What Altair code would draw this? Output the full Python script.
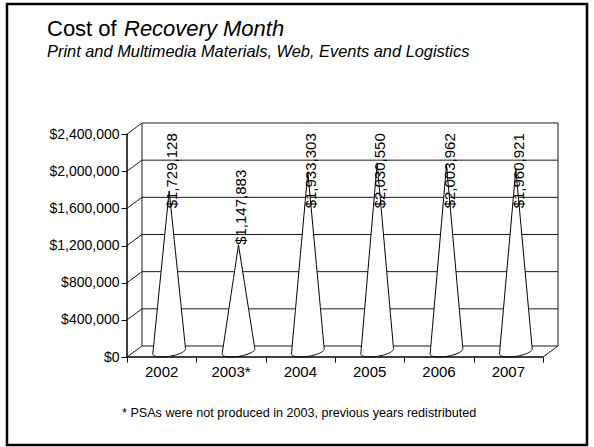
import math
import altair as alt
import pandas as pd

# ---------------- data ----------------
years = ["2002", "2003*", "2004", "2005", "2006", "2007"]
costs = [1729128, 1147883, 1933303, 2030550, 2003962, 1960921]
y_ticks = [0, 400000, 800000, 1200000, 1600000, 2000000, 2400000]
x_ticks = [0, 1, 2, 3, 4, 5, 6]

title_plain = "Cost of"
title_italic = "Recovery Month"
subtitle = "Print and Multimedia Materials, Web, Events and Logistics"
footnote = "* PSAs were not produced in 2003, previous years redistributed"

# ---------------- layout / 3D look constants ----------------
FONT = "Liberation Sans"
W, H = 431, 234
YMAX = 2400000
N = len(years)
DX = 0.2163            # depth offset, x units
DY = 118400            # depth offset, y units
RX = 0.21              # cone base radius (x units)
A = math.hypot(RX, DX / 2)
T0 = math.atan2(DX / 2, RX)
S0 = math.sin(T0)
NS = 40
LABEL_CAP = 1600000
LINE = "#1a1a1a"

xs = alt.Scale(domain=[0, N + DX], nice=False, zero=False)
ys = alt.Scale(domain=[0, YMAX + DY], nice=False, zero=False)
XAX = alt.Axis(values=x_ticks, labels=False, domain=False, grid=False, tickSize=5,
               tickColor="black", title=None)
YAX = alt.Axis(values=y_ticks, format="$,.0f", labelFont=FONT, labelFontSize=14,
               labelColor="black", tickColor="black", tickSize=6, domain=False,
               grid=False, labelPadding=2, title=None)

df = pd.DataFrame({"year": years, "cost": costs, "idx": list(range(N))})
tk = pd.DataFrame({"t": y_ticks})
one = pd.DataFrame({"k": [0]})
edges = pd.DataFrame({"xe": [DX, N + DX]})


def xd(v):
    return alt.X(datum=v, type="quantitative", scale=xs, axis=XAX)


def yd(v):
    return alt.Y(datum=v, type="quantitative", scale=ys, axis=YAX)


frame = alt.Chart(one).mark_rect(filled=False, stroke="black", strokeWidth=2.5).encode(
    x=alt.value(-120), x2=alt.value(460), y=alt.value(-119), y2=alt.value(322)
)

back_grid = alt.Chart(tk).transform_calculate(yb=f"datum.t + {DY}").mark_rule(
    color=LINE, strokeWidth=1
).encode(
    x=xd(DX), x2=alt.X2(datum=N + DX),
    y=alt.Y("yb:Q", scale=ys, axis=YAX),
)

left_diag = alt.Chart(tk).transform_calculate(yb=f"datum.t + {DY}").mark_rule(
    color=LINE, strokeWidth=1
).encode(
    x=xd(0), x2=alt.X2(datum=DX),
    y=alt.Y("t:Q", scale=ys, axis=YAX),
    y2="yb:Q",
)

wall_edges = alt.Chart(edges).mark_rule(color=LINE, strokeWidth=1).encode(
    x=alt.X("xe:Q", scale=xs, axis=XAX),
    y=yd(DY), y2=alt.Y2(datum=YMAX + DY),
)

front_axis = alt.Chart(one).mark_rule(color="black", strokeWidth=1.5).encode(
    x=xd(0), y=yd(0), y2=alt.Y2(datum=YMAX),
)

floor_front = alt.Chart(one).mark_rule(color="black", strokeWidth=1.5).encode(
    x=xd(0), x2=alt.X2(datum=N), y=yd(0),
)

floor_right = alt.Chart(one).mark_rule(color=LINE, strokeWidth=1).encode(
    x=xd(N), x2=alt.X2(datum=N + DX), y=yd(0), y2=alt.Y2(datum=DY),
)

cone_base = alt.Chart(df).transform_calculate(
    ks=f"sequence(0, {NS + 1})"
).transform_flatten(["ks"]).transform_calculate(
    cx=f"datum.idx + 0.5 + {DX / 2}",
    u=f"-cos(PI * datum.ks / {NS})",
).transform_calculate(
    xv=f"datum.cx + {A} * datum.u",
    ybot=f"{DY / 2} + {DY / 2} * sin({T0} + PI + PI * datum.ks / {NS})",
    yL=f"{DY / 2} - {DY / 2 * S0}",
    yR=f"{DY / 2} + {DY / 2 * S0}",
    yT=f"datum.cost + {DY / 2}",
).transform_calculate(
    ytop="datum.u <= 0 ? datum.yL + (datum.yT - datum.yL) * (datum.u + 1) "
         ": datum.yR + (datum.yT - datum.yR) * (1 - datum.u)"
)

cones = cone_base.mark_area(
    color="white", fill="white", fillOpacity=1, strokeWidth=0, orient="vertical",
    interpolate="linear"
).encode(
    x=alt.X("xv:Q", scale=xs, axis=XAX),
    y=alt.Y("ytop:Q", scale=ys, axis=YAX, stack=False),
    y2="ybot:Q",
    detail="year:N",
)

cone_top = cone_base.mark_line(color="black", strokeWidth=1).encode(
    x=alt.X("xv:Q", scale=xs, axis=XAX),
    y=alt.Y("ytop:Q", scale=ys, axis=YAX),
    detail="year:N",
)
cone_bot = cone_base.mark_line(color="black", strokeWidth=1).encode(
    x=alt.X("xv:Q", scale=xs, axis=XAX),
    y=alt.Y("ybot:Q", scale=ys, axis=YAX),
    detail="year:N",
)

value_labels = alt.Chart(df).transform_calculate(
    cx=f"datum.idx + 0.5 + {DX / 2}",
    ly=f"min(datum.cost + {DY / 2}, {LABEL_CAP})",
).mark_text(
    angle=270, align="left", baseline="middle", dy=3, font=FONT, fontSize=15, color="black"
).encode(
    x=alt.X("cx:Q", scale=xs, axis=XAX),
    y=alt.Y("ly:Q", scale=ys, axis=YAX),
    text=alt.Text("cost:Q", format="$,.0f"),
)

year_labels = alt.Chart(df).transform_calculate(xc="datum.idx + 0.5").mark_text(
    baseline="top", dy=8, font=FONT, fontSize=15, color="black"
).encode(
    x=alt.X("xc:Q", scale=xs, axis=XAX),
    y=yd(0),
    text="year:N",
)

t1 = alt.Chart(one).mark_text(
    text=title_plain, align="left", baseline="alphabetic", font=FONT, fontSize=22, color="black"
).encode(x=alt.value(-80), y=alt.value(-87))
t2 = alt.Chart(one).mark_text(
    text=title_italic, align="left", baseline="alphabetic", font=FONT, fontSize=22,
    fontStyle="italic", color="black"
).encode(x=alt.value(-3), y=alt.value(-87))
sub = alt.Chart(one).mark_text(
    text=subtitle, align="left", baseline="alphabetic", font=FONT, fontSize=16.4,
    fontStyle="italic", color="black"
).encode(x=alt.value(-80), y=alt.value(-66))
foot = alt.Chart(one).mark_text(
    text=footnote, align="left", baseline="alphabetic", font=FONT, fontSize=12.6, color="black"
).encode(x=alt.value(-5), y=alt.value(294))

chart = alt.layer(
    back_grid, left_diag, wall_edges, floor_right, cones, cone_top, cone_bot,
    front_axis, floor_front, value_labels, year_labels, frame, t1, t2, sub, foot
).properties(
    width=W, height=H,
    padding={"left": 127, "top": 123, "right": 36, "bottom": 90},
    autosize=alt.AutoSizeParams(type="none"),
    background="white",
).configure_view(strokeWidth=0)

chart.save("out.html", embed_options={"renderer": "svg", "actions": False})
